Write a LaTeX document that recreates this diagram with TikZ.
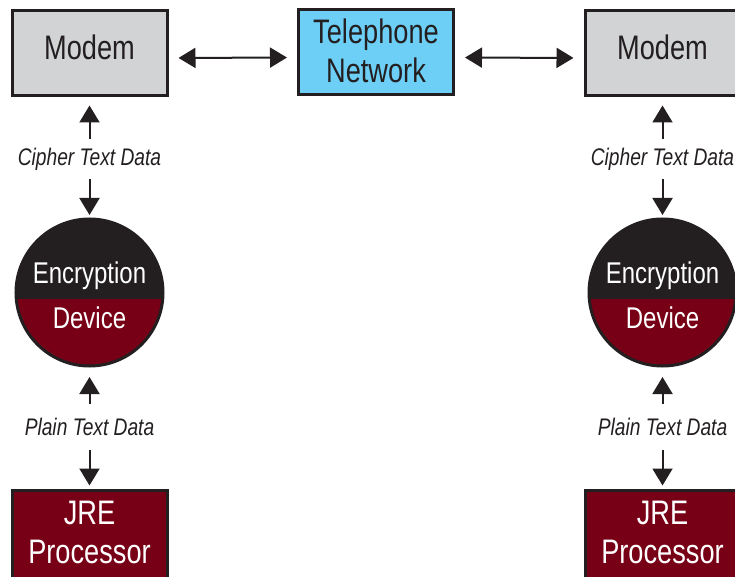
\documentclass[tikz,border=0pt]{standalone}
\usepackage{fontspec}
\setmainfont{Liberation Sans}[FakeStretch=0.8]
\usetikzlibrary{arrows.meta}
\definecolor{modemgray}{RGB}{209,211,212}
\definecolor{netblue}{RGB}{109,207,246}
\definecolor{jrered}{RGB}{120,0,22}
\definecolor{inkdark}{RGB}{35,31,32}

\begin{document}
\begin{tikzpicture}[x=1pt, y=-1pt, >={Triangle[length=17pt,width=20pt]},
  box/.style={draw=inkdark, line width=3pt, minimum width=155pt,
    minimum height=85pt, inner sep=0pt, align=center, text=inkdark,
    font=\fontsize{34}{38.5}\selectfont},
  disc/.style={circle, draw=inkdark, line width=3pt, minimum size=147pt,
    inner sep=0pt, fill=jrered,
    path picture={\fill[inkdark] (path picture bounding box.north west)
      rectangle ([yshift=-6.5pt]path picture bounding box.east);}},
  disctext/.style={anchor=base, inner sep=0pt, text=white,
    font=\fontsize{30}{36}\selectfont},
  flow/.style={inner sep=0pt, minimum height=37pt, text=inkdark,
    font=\fontsize{24}{28}\selectfont\itshape},
  link/.style={color=inkdark, line width=2pt}]
  \clip (0,0) rectangle (735,577);
  \node[box, fill=netblue, text depth=4pt] (tel) at (376,52.5) {Telephone\\Network};
  % --- the two ends of the line ---
  \foreach \x/\s in {89.5/l, 662.5/r}
    {\node[box, fill=modemgray, text depth=11.6pt] (modem\s) at (\x,53) {Modem};
     \node[flow] (cipher\s) at (\x,159) {Cipher Text Data};
     \node[disc] (enc\s) at (\x,292.5) {};
     \node[disctext] (enctop\s) at ([yshift=9pt]enc\s.center) {Encryption};
     \node[disctext] (encbot\s) at ([yshift=-35.5pt]enc\s.center) {Device};
     \node[flow] (plain\s) at (\x,427) {Plain Text Data};
     \node[box, fill=jrered, text=white, minimum height=100pt, text depth=16.6pt]
       (jre\s) at (\x,540.5) {JRE\\Processor};
     \draw[link, ->, shorten <=1.5pt, shorten >=8.5pt] (cipher\s) -- (modem\s);
     \draw[link, ->, shorten <=1.5pt, shorten >=2.5pt] (cipher\s) -- (enc\s);
     \draw[link, ->, shorten <=4.5pt, shorten >=9.5pt] (plain\s) -- (enc\s);
     \draw[link, ->, shorten <=4.5pt, shorten >=3.5pt] (plain\s) -- (jre\s);}
  % --- modem to network links ---
  \draw[link, <->, shorten <=10pt, shorten >=10pt]
    ([yshift=-5pt]modeml.east) -- ([yshift=-5pt]tel.west);
  \draw[link, <->, shorten <=10pt, shorten >=10pt]
    ([yshift=-5pt]tel.east) -- ([yshift=-5pt]modemr.west);
\end{tikzpicture}
\end{document}
